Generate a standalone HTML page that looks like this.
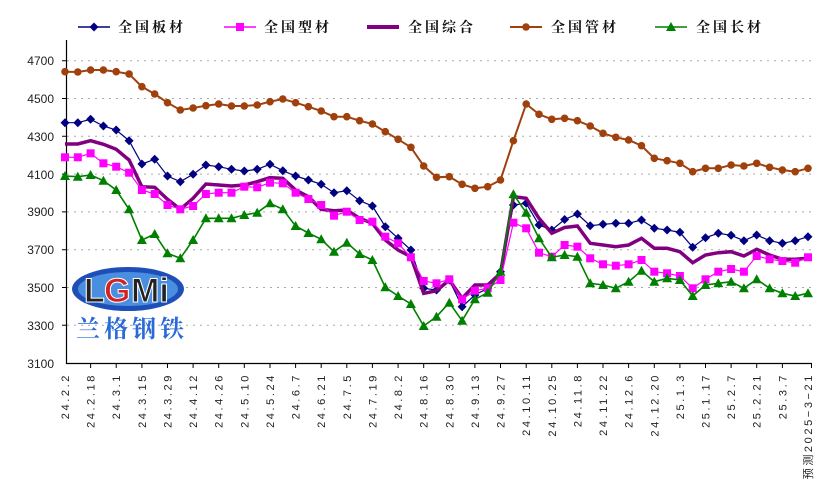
<!DOCTYPE html>
<html><head><meta charset="utf-8"><style>
html,body{margin:0;padding:0;background:#fff;}
svg{display:block;}
.yl{font:12px "Liberation Sans",sans-serif;fill:#222;}
.xl{font:11px "Liberation Sans",sans-serif;fill:#222;letter-spacing:2.6px;}
.lg{font:bold 14px "Noto Serif CJK SC","Liberation Serif",serif;fill:#111;letter-spacing:3px;}
</style></head><body>
<svg width="835" height="503" viewBox="0 0 835 503" xmlns="http://www.w3.org/2000/svg">
<defs>
<marker id="dm" markerUnits="userSpaceOnUse" markerWidth="10" markerHeight="10" refX="5" refY="5"><path d="M5 0.5L9.5 5L5 9.5L0.5 5Z" fill="#000080"/></marker>
<marker id="sq" markerUnits="userSpaceOnUse" markerWidth="10" markerHeight="10" refX="5" refY="5"><rect x="1" y="1" width="8" height="8" fill="#ff00ff"/></marker>
<marker id="tr" markerUnits="userSpaceOnUse" markerWidth="11" markerHeight="11" refX="5.5" refY="5.5"><path d="M5.5 0.5L10.5 9.5L0.5 9.5Z" fill="#008000"/></marker>
<marker id="ci" markerUnits="userSpaceOnUse" markerWidth="10" markerHeight="10" refX="5" refY="5"><circle cx="5" cy="5" r="3.8" fill="#a0410d"/></marker>
</defs>
<!-- grid -->
<g stroke="#aaa" stroke-width="1" stroke-dasharray="2,5">
<line x1="67" y1="60.7" x2="812" y2="60.7"/><line x1="67" y1="98.5" x2="812" y2="98.5"/>
<line x1="67" y1="136.3" x2="812" y2="136.3"/><line x1="67" y1="174.1" x2="812" y2="174.1"/>
<line x1="67" y1="211.9" x2="812" y2="211.9"/><line x1="67" y1="249.7" x2="812" y2="249.7"/>
<line x1="67" y1="287.5" x2="812" y2="287.5"/><line x1="67" y1="325.3" x2="812" y2="325.3"/>
</g>
<!-- y labels -->
<g class="yl" text-anchor="end">
<text x="54" y="65">4700</text><text x="54" y="103">4500</text><text x="54" y="141">4300</text>
<text x="54" y="179">4100</text><text x="54" y="216">3900</text><text x="54" y="254">3700</text>
<text x="54" y="292">3500</text><text x="54" y="330">3300</text><text x="54" y="368">3100</text>
</g>
<!-- logo -->
<g>
<ellipse cx="128" cy="289" rx="56" ry="22" fill="#1e4fb8"/>
<ellipse cx="128" cy="289" rx="50" ry="17" fill="#4a8ee0"/>
<text x="84" y="302" font-family="Liberation Sans,sans-serif" font-weight="bold" font-size="34" fill="#222" stroke="#fff" stroke-width="1">L</text>
<text x="104" y="302" font-family="Liberation Sans,sans-serif" font-weight="bold" font-size="34" fill="#d42020" stroke="#fff" stroke-width="1">G</text>
<text x="131" y="302" font-family="Liberation Sans,sans-serif" font-weight="bold" font-size="34" fill="#222" stroke="#fff" stroke-width="1">Mi</text>
<text x="76" y="337" font-family="Noto Serif CJK SC,serif" font-weight="bold" font-size="24" fill="#2a6ad8" letter-spacing="4">兰格钢铁</text>
</g>
<!-- axes -->
<g stroke="#000" stroke-width="1.2" fill="none">
<line x1="66.5" y1="40" x2="66.5" y2="364"/>
<line x1="66" y1="363.5" x2="812" y2="363.5"/>
</g>
<g stroke="#000" stroke-width="1">
<path d="M62 60.7H66M62 98.5H66M62 136.3H66M62 174.1H66M62 211.9H66M62 249.7H66M62 287.5H66M62 325.3H66"/>
<path d="M90.6 364v4M116.2 364v4M141.9 364v4M167.5 364v4M193.1 364v4M218.7 364v4M244.3 364v4M270 364v4M295.6 364v4M321.2 364v4M346.8 364v4M372.4 364v4M398.1 364v4M423.7 364v4M449.3 364v4M474.9 364v4M500.5 364v4M526.2 364v4M551.8 364v4M577.4 364v4M603 364v4M628.6 364v4M654.3 364v4M679.9 364v4M705.5 364v4M731.1 364v4M756.7 364v4M782.4 364v4M811.5 364v4"/>
</g>
<!-- series -->
<polyline fill="none" stroke="#a0410d" stroke-width="2" marker-start="url(#ci)" marker-mid="url(#ci)" marker-end="url(#ci)" points="65,71.7 77.8,72 90.6,70 103.4,70 116.2,71.7 129.1,74 141.9,86.7 154.7,94 167.5,102.7 180.3,110 193.1,108 205.9,105.7 218.7,104 231.5,106 244.3,106 257.2,105 270,101.7 282.8,99 295.6,102.7 308.4,106.7 321.2,111 334,116.7 346.8,116.7 359.6,120.7 372.4,124 385.3,131.7 398.1,139.3 410.9,147.3 423.7,166 436.5,177.3 449.3,176.7 462.1,184.3 474.9,188.3 487.7,186.7 500.5,180 513.4,140.7 526.2,104 539,114.3 551.8,119.3 564.6,118.3 577.4,120.7 590.2,126 603,133.3 615.8,137.3 628.6,140 641.5,145.7 654.3,158.3 667.1,160.7 679.9,163.3 692.7,171.7 705.5,168.3 718.3,168.3 731.1,165 743.9,166 756.7,163.3 769.6,167.3 782.4,170 795.2,171.7 808,168.3"/>
<polyline fill="none" stroke="#000080" stroke-width="1.2" marker-start="url(#dm)" marker-mid="url(#dm)" marker-end="url(#dm)" points="65,122.7 77.8,122.7 90.6,119.3 103.4,126 116.2,130 129.1,140.7 141.9,164 154.7,159.3 167.5,176 180.3,181.7 193.1,174.3 205.9,165 218.7,166.7 231.5,169.3 244.3,171 257.2,169.3 270,164.3 282.8,170.7 295.6,176 308.4,180 321.2,184.3 334,192.7 346.8,190.7 359.6,200.7 372.4,206 385.3,226.7 398.1,238.3 410.9,250 423.7,288.3 436.5,290 449.3,280 462.1,306.7 474.9,295 487.7,288.3 500.5,271.7 513.4,205 526.2,203.3 539,225 551.8,230 564.6,219.5 577.4,214 590.2,225.7 603,224.3 615.8,223.3 628.6,223.3 641.5,220 654.3,228.3 667.1,230 679.9,232.3 692.7,247.3 705.5,237.7 718.3,233.3 731.1,235.3 743.9,240.7 756.7,235 769.6,240.7 782.4,243.3 795.2,240.7 808,236.7"/>
<polyline fill="none" stroke="#800080" stroke-width="3.5" points="65,144 77.8,144 90.6,140.7 103.4,144.3 116.2,149.3 129.1,160 141.9,186.7 154.7,187.3 167.5,199.3 180.3,209.3 193.1,198.3 205.9,184 218.7,185 231.5,186 244.3,185 257.2,181.7 270,177.7 282.8,178.3 295.6,190 308.4,196.7 321.2,209.3 334,210.7 346.8,210 359.6,218.3 372.4,223.3 385.3,240 398.1,250 410.9,256.7 423.7,293.3 436.5,290.7 449.3,280 462.1,298.3 474.9,285 487.7,285 500.5,273.3 513.4,196.7 526.2,198.3 539,218.3 551.8,233.3 564.6,227.5 577.4,226 590.2,243.3 603,245 615.8,246.7 628.6,245 641.5,238.3 654.3,248.3 667.1,248.3 679.9,251.7 692.7,262.7 705.5,255 718.3,252.7 731.1,251.7 743.9,256 756.7,249.3 769.6,255 782.4,259.3 795.2,259.3 808,258.3"/>
<polyline fill="none" stroke="#ff00ff" stroke-width="1.2" marker-start="url(#sq)" marker-mid="url(#sq)" marker-end="url(#sq)" points="65,157.3 77.8,157.3 90.6,153.3 103.4,163.3 116.2,166.7 129.1,172.7 141.9,190 154.7,194 167.5,205 180.3,209.3 193.1,206 205.9,194 218.7,192.7 231.5,192.7 244.3,186.7 257.2,187.3 270,182.7 282.8,183.3 295.6,192.7 308.4,199 321.2,205 334,215.7 346.8,211.7 359.6,220 372.4,221.7 385.3,236.7 398.1,243.3 410.9,257.3 423.7,281 436.5,283.3 449.3,279.3 462.1,299.3 474.9,290.7 487.7,288.3 500.5,280 513.4,222.7 526.2,228.3 539,252.7 551.8,256.7 564.6,245 577.4,246.7 590.2,258.3 603,264.3 615.8,265.7 628.6,264.3 641.5,260 654.3,271.7 667.1,273.3 679.9,276 692.7,288.3 705.5,279.3 718.3,271.7 731.1,269 743.9,271.7 756.7,256 769.6,259.3 782.4,261 795.2,262.7 808,257.3"/>
<polyline fill="none" stroke="#008000" stroke-width="1.6" marker-start="url(#tr)" marker-mid="url(#tr)" marker-end="url(#tr)" points="65,176 77.8,176.7 90.6,175 103.4,180.7 116.2,190 129.1,209.3 141.9,240 154.7,234 167.5,253.3 180.3,258.3 193.1,240 205.9,218.3 218.7,218.3 231.5,218.3 244.3,215 257.2,212.7 270,203.3 282.8,209.3 295.6,226 308.4,233 321.2,239.3 334,251.7 346.8,242.7 359.6,254 372.4,260 385.3,287.3 398.1,296 410.9,304 423.7,326 436.5,316.7 449.3,302.7 462.1,320.7 474.9,299.3 487.7,292.7 500.5,271.7 513.4,194.3 526.2,212.7 539,238.3 551.8,257.3 564.6,255 577.4,256.7 590.2,283.3 603,285 615.8,288.3 628.6,281.7 641.5,270.7 654.3,281.7 667.1,278.3 679.9,280 692.7,296 705.5,285 718.3,283.3 731.1,281.7 743.9,288.3 756.7,279.3 769.6,288.3 782.4,293.3 795.2,296 808,293.3"/>
<!-- legend -->
<g>
<line x1="78" y1="27" x2="110" y2="27" stroke="#000080" stroke-width="1.5"/><path d="M94 22.5L98.5 27L94 31.5L89.5 27Z" fill="#000080"/>
<text class="lg" x="118" y="32">全国板材</text>
<line x1="224" y1="27" x2="256" y2="27" stroke="#ff00ff" stroke-width="1.5"/><rect x="236" y="23" width="8" height="8" fill="#ff00ff"/>
<text class="lg" x="264" y="32">全国型材</text>
<line x1="367" y1="27" x2="399" y2="27" stroke="#800080" stroke-width="4"/>
<text class="lg" x="408" y="32">全国综合</text>
<line x1="510" y1="27" x2="542" y2="27" stroke="#a0410d" stroke-width="2"/><circle cx="526" cy="27" r="3.8" fill="#a0410d"/>
<text class="lg" x="551" y="32">全国管材</text>
<line x1="655" y1="27" x2="687" y2="27" stroke="#008000" stroke-width="1.5"/><path d="M671 22L676 31L666 31Z" fill="#008000"/>
<text class="lg" x="696" y="32">全国长材</text>
</g>
<!-- x labels -->
<g class="xl" text-anchor="end">
<text transform="translate(69,373) rotate(-90)">24.2.2</text>
<text transform="translate(94.6,373) rotate(-90)">24.2.18</text>
<text transform="translate(120.2,373) rotate(-90)">24.3.1</text>
<text transform="translate(145.9,373) rotate(-90)">24.3.15</text>
<text transform="translate(171.5,373) rotate(-90)">24.3.29</text>
<text transform="translate(197.1,373) rotate(-90)">24.4.12</text>
<text transform="translate(222.7,373) rotate(-90)">24.4.26</text>
<text transform="translate(248.3,373) rotate(-90)">24.5.10</text>
<text transform="translate(274,373) rotate(-90)">24.5.24</text>
<text transform="translate(299.6,373) rotate(-90)">24.6.7</text>
<text transform="translate(325.2,373) rotate(-90)">24.6.21</text>
<text transform="translate(350.8,373) rotate(-90)">24.7.5</text>
<text transform="translate(376.4,373) rotate(-90)">24.7.19</text>
<text transform="translate(402.1,373) rotate(-90)">24.8.2</text>
<text transform="translate(427.7,373) rotate(-90)">24.8.16</text>
<text transform="translate(453.3,373) rotate(-90)">24.8.30</text>
<text transform="translate(478.9,373) rotate(-90)">24.9.13</text>
<text transform="translate(504.5,373) rotate(-90)">24.9.27</text>
<text transform="translate(530.2,373) rotate(-90)">24.10.11</text>
<text transform="translate(555.8,373) rotate(-90)">24.10.25</text>
<text transform="translate(581.4,373) rotate(-90)">24.11.8</text>
<text transform="translate(607,373) rotate(-90)">24.11.22</text>
<text transform="translate(632.6,373) rotate(-90)">24.12.6</text>
<text transform="translate(658.3,373) rotate(-90)">24.12.20</text>
<text transform="translate(683.9,373) rotate(-90)">25.1.3</text>
<text transform="translate(709.5,373) rotate(-90)">25.1.17</text>
<text transform="translate(735.1,373) rotate(-90)">25.2.7</text>
<text transform="translate(760.7,373) rotate(-90)">25.2.21</text>
<text transform="translate(786.4,373) rotate(-90)">25.3.7</text>
<text transform="translate(812,373) rotate(-90)" style="font-family:'Liberation Sans','Noto Sans CJK SC',sans-serif">预测2025−3−21</text>
</g>
</svg>
</body></html>
